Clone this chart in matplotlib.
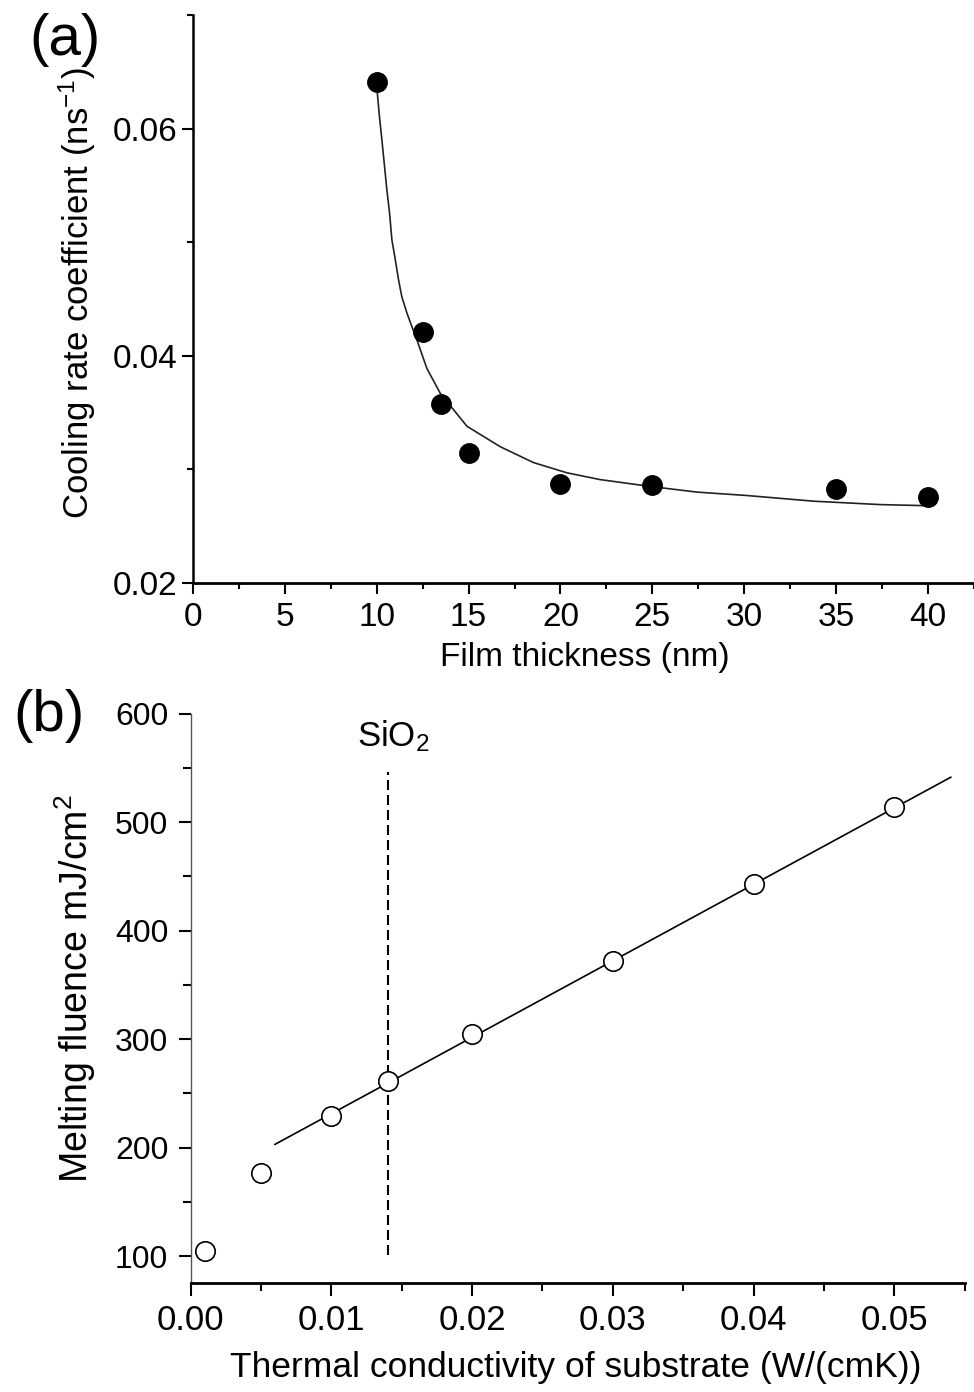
import numpy as np
import matplotlib
matplotlib.use("Agg")
import matplotlib.pyplot as plt
from matplotlib.ticker import MultipleLocator, FormatStrFormatter

plt.rcParams['font.family'] = ['Liberation Sans', 'DejaVu Sans']
plt.rcParams['mathtext.fontset'] = 'custom'
plt.rcParams['mathtext.rm'] = 'Liberation Sans'
plt.rcParams['mathtext.it'] = 'Liberation Sans:italic'
plt.rcParams['mathtext.bf'] = 'Liberation Sans:bold'
plt.rcParams['mathtext.default'] = 'rm'

# panel (a): cooling rate vs film thickness
thick = [10, 12.5, 13.5, 15, 20, 25, 35, 40]
cool = [0.0641, 0.0421, 0.0358, 0.0314, 0.0287, 0.0286, 0.0283, 0.0276]

# fitted curve
fit_x = [10.0, 10.15, 10.28, 10.55, 10.70, 10.83, 11.01, 11.19, 11.37, 11.64,
         11.91, 12.19, 12.73, 13.46, 14.91, 16.72, 18.53, 20.35, 22.16, 24.88,
         27.42, 30.14, 33.77, 37.4, 40.0]
fit_y = [0.0638, 0.0611, 0.0591, 0.0547, 0.0526, 0.0502, 0.0485, 0.0467, 0.0452, 0.0438,
         0.0426, 0.0414, 0.0389, 0.0367, 0.0338, 0.0320, 0.0306, 0.0297, 0.0291, 0.0285,
         0.0280, 0.0277, 0.0272, 0.0269, 0.0268]

# panel (b): melting fluence vs substrate conductivity
kappa = [0.001, 0.005, 0.010, 0.014, 0.020, 0.030, 0.040, 0.050]
fluence = [104.6, 176.3, 229.2, 261.2, 304.5, 372.1, 442.9, 514.2]

line_x = [0.006, 0.054]
line_y = [203.0, 541.3]

sio2_x = 0.014
sio2_y = [101, 546]

fig = plt.figure(figsize=(9.74, 13.92), dpi=100)

# ---------- (a) ----------
ax1 = fig.add_axes([0.198, 0.5812, 0.802, 0.408])
ax1.plot(fit_x, fit_y, color='#222222', lw=1.2, zorder=2)
ax1.plot(thick, cool, 'o', color='black', ms=14, zorder=3)

ax1.set_xlim(0, 42.5)
ax1.set_ylim(0.02, 0.07)
ax1.xaxis.set_major_locator(MultipleLocator(5))
ax1.xaxis.set_minor_locator(MultipleLocator(2.5))
ax1.yaxis.set_major_locator(MultipleLocator(0.02))
ax1.yaxis.set_minor_locator(MultipleLocator(0.01))
ax1.yaxis.set_major_formatter(FormatStrFormatter('%.2f'))

for s in ['top', 'right']:
    ax1.spines[s].set_visible(False)
ax1.spines['left'].set_linewidth(1.8)
ax1.spines['bottom'].set_linewidth(2.0)

ax1.tick_params(axis='both', which='major', direction='out', length=8, width=1.5, labelsize=24)
ax1.tick_params(axis='both', which='minor', direction='out', length=4.5, width=1.5)
ax1.tick_params(axis='x', which='major', pad=6)
ax1.tick_params(axis='y', which='major', pad=3)

ax1.set_xlabel('Film thickness (nm)', fontsize=24, va='top')
ax1.xaxis.set_label_coords(0.502, -0.104)
ax1.set_ylabel('Cooling rate coefficient (ns$^{-1}$)', fontsize=25)
ax1.yaxis.set_label_coords(-0.121, 0.51)

fig.text(65 / 974, 1 - 40 / 1392, '(a)', fontsize=42, ha='center', va='center')

# ---------- (b) ----------
ax2 = fig.add_axes([0.1956, 0.0781, 0.795, 0.4093])
ax2.plot(line_x, line_y, color='black', lw=1.2, zorder=2)
ax2.plot(kappa, fluence, 'o', mfc='white', mec='black', mew=1.2, ms=14, zorder=3)
ax2.plot([sio2_x, sio2_x], sio2_y, color='black', lw=1.5, ls=(0, (4.8, 2.4)), zorder=1)
ax2.text(0.0144, 570, 'SiO$_2$', fontsize=25, ha='center', va='baseline')

ax2.set_xlim(0, 0.055)
ax2.set_ylim(75, 600)
ax2.xaxis.set_major_locator(MultipleLocator(0.01))
ax2.xaxis.set_minor_locator(MultipleLocator(0.005))
ax2.xaxis.set_major_formatter(FormatStrFormatter('%.2f'))
ax2.yaxis.set_major_locator(MultipleLocator(100))
ax2.yaxis.set_minor_locator(MultipleLocator(50))

for s in ['top', 'right']:
    ax2.spines[s].set_visible(False)
ax2.spines['left'].set_linewidth(1.0)
ax2.spines['left'].set_color('#555555')
ax2.spines['bottom'].set_linewidth(2.0)

ax2.tick_params(axis='both', which='major', direction='out', length=9, width=1.5)
ax2.tick_params(axis='both', which='minor', direction='out', length=5.5, width=1.5)
ax2.tick_params(axis='x', which='major', labelsize=25, pad=6)
ax2.tick_params(axis='y', which='major', labelsize=23, pad=7)

ax2.set_xlabel('Thermal conductivity of substrate (W/(cmK))', fontsize=25.5, va='top')
ax2.xaxis.set_label_coords(0.498, -0.119)
ax2.set_ylabel('Melting fluence mJ/cm$^2$', fontsize=27)
ax2.yaxis.set_label_coords(-0.119, 0.518)

fig.text(49 / 974, 1 - 716 / 1392, '(b)', fontsize=42, ha='center', va='center')

fig.savefig('out.png', dpi=100)
